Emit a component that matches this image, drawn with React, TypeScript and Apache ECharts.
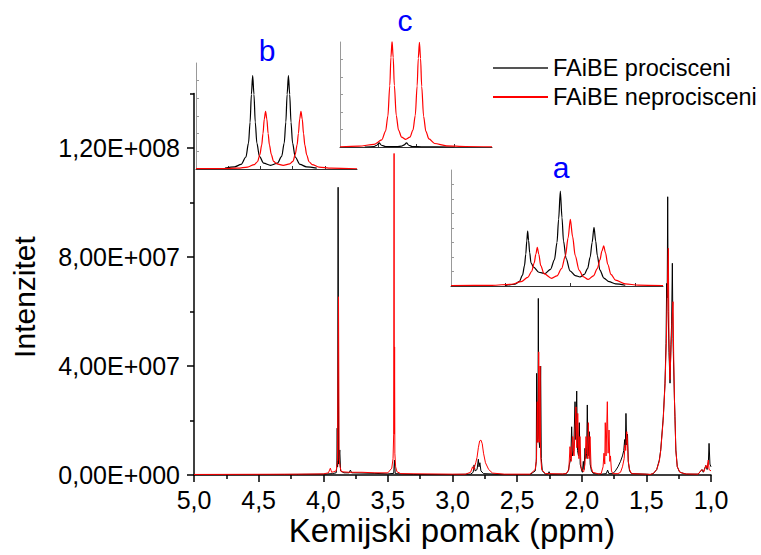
import React, { useEffect, useRef } from 'react';
import * as echarts from 'echarts';

const SERIES_NAMES = ['FAiBE procisceni', 'FAiBE neprocisceni'];
const X_MIN = 1;
const X_MAX = 5;
const X_INTERVAL = 0.5;
const Y_MAX = 14e7;
const Y_MAJOR_TICKS = [0, 4e7, 8e7, 12e7];
const Y_MINOR_TICKS = [2e7, 6e7, 10e7, 14e7];
const X_TITLE = 'Kemijski pomak (ppm)';
const Y_TITLE = 'Intenzitet';
const INSET_LABELS = ['a', 'b', 'c'];

// main spectrum, [ppm, intensity]
const mainBlack: number[][] = [
  [5.0, 0.01e7], [4.3, 0.02e7], [4.0, 0.03e7], [3.93, 0.05e7], [3.9, 0.08e7],
  [3.895, 0.3e7], [3.892, 1.72e7], [3.889, 0.3e7], [3.885, 10.56e7], [3.881, 0.4e7],
  [3.872, 0.92e7], [3.866, 0.15e7], [3.84, 0.08e7], [3.8, 0.08e7], [3.79, 0.18e7],
  [3.78, 0.08e7], [3.6, 0.06e7], [3.5, 0.04e7], [3.455, 0.06e7], [3.449, 0.55e7],
  [3.443, 0.05e7], [3.3, 0.02e7], [3.0, 0.02e7], [2.86, 0.03e7], [2.84, 0.1e7],
  [2.833, 0.37e7], [2.825, 0.15e7], [2.81, 0.2e7], [2.8, 0.58e7], [2.795, 0.3e7],
  [2.788, 0.45e7], [2.78, 0.15e7], [2.76, 0.05e7], [2.6, 0.02e7], [2.4, 0.02e7],
  [2.36, 0.15e7], [2.352, 0.5e7], [2.349, 3.73e7], [2.345, 1.2e7], [2.339, 1.5e7],
  [2.336, 6.48e7], [2.332, 1.3e7], [2.325, 1.0e7], [2.318, 4.0e7], [2.313, 0.6e7],
  [2.305, 0.15e7], [2.28, 0.03e7], [2.26, 0.04e7], [2.253, 0.12e7], [2.245, 0.03e7],
  [2.15, 0.03e7], [2.12, 0.05e7], [2.104, 0.15e7], [2.095, 0.4e7], [2.085, 0.6e7],
  [2.078, 1.77e7], [2.072, 0.7e7], [2.062, 0.9e7], [2.052, 2.69e7], [2.046, 1.3e7],
  [2.039, 3.08e7], [2.033, 0.9e7], [2.025, 0.7e7], [2.019, 1.92e7], [2.012, 0.4e7],
  [2.0, 0.15e7], [1.995, 0.1e7], [1.988, 0.5e7], [1.982, 0.2e7], [1.975, 0.98e7],
  [1.968, 0.6e7], [1.962, 0.8e7], [1.957, 2.57e7], [1.951, 0.7e7], [1.942, 1.59e7],
  [1.935, 0.4e7], [1.925, 0.15e7], [1.91, 0.05e7], [1.85, 0.03e7], [1.81, 0.05e7],
  [1.8, 0.18e7], [1.79, 0.05e7], [1.76, 0.05e7], [1.74, 0.15e7], [1.72, 0.3e7],
  [1.7, 0.5e7], [1.685, 0.7e7], [1.675, 0.9e7], [1.668, 1.3e7], [1.663, 1.0e7],
  [1.658, 2.26e7], [1.652, 1.1e7], [1.646, 1.5e7], [1.64, 0.5e7], [1.63, 0.15e7],
  [1.615, 0.05e7], [1.5, 0.03e7], [1.47, 0.02e7], [1.446, 0.05e7], [1.42, 0.2e7],
  [1.4, 0.55e7], [1.389, 0.92e7], [1.369, 2.14e7], [1.356, 3.37e7], [1.348, 4.83e7],
  [1.343, 7.03e7], [1.339, 6.5e7], [1.335, 10.21e7], [1.331, 6.0e7], [1.325, 4.5e7],
  [1.317, 3.37e7], [1.31, 4.8e7], [1.305, 5.5e7], [1.299, 7.77e7], [1.294, 5.0e7],
  [1.289, 4.0e7], [1.283, 2.8e7], [1.279, 2.14e7], [1.272, 0.92e7], [1.261, 0.31e7],
  [1.245, 0.12e7], [1.227, 0.08e7], [1.19, 0.03e7], [1.1, 0.03e7], [1.07, 0.2e7],
  [1.06, 0.1e7], [1.04, 0.35e7], [1.03, 0.2e7], [1.02, 0.5e7], [1.015, 1.16e7],
  [1.008, 0.4e7], [1.0, 0.3e7],
];

const mainRed: number[][] = [
  [5.0, 0.02e7], [4.2, 0.03e7], [4.0, 0.04e7], [3.96, 0.08e7], [3.945, 0.25e7],
  [3.935, 0.1e7], [3.92, 0.12e7], [3.9, 0.15e7], [3.89, 0.5e7], [3.882, 6.54e7],
  [3.877, 0.6e7], [3.87, 0.3e7], [3.86, 0.12e7], [3.8, 0.1e7], [3.7, 0.1e7],
  [3.6, 0.08e7], [3.5, 0.08e7], [3.47, 0.25e7], [3.46, 0.6e7], [3.455, 1.5e7],
  [3.452, 11.8e7], [3.45, 1.5e7], [3.448, 4.7e7], [3.446, 0.8e7], [3.44, 0.3e7],
  [3.43, 0.12e7], [3.4, 0.05e7], [3.0, 0.03e7], [2.9, 0.03e7], [2.86, 0.1e7],
  [2.845, 0.3e7], [2.835, 0.2e7], [2.82, 0.45e7], [2.81, 0.65e7], [2.8, 1.0e7],
  [2.79, 1.25e7], [2.78, 1.28e7], [2.77, 1.15e7], [2.76, 0.8e7], [2.745, 0.45e7],
  [2.72, 0.2e7], [2.69, 0.07e7], [2.6, 0.03e7], [2.4, 0.03e7], [2.36, 0.2e7],
  [2.35, 0.6e7], [2.344, 2.69e7], [2.339, 1.2e7], [2.333, 4.52e7], [2.328, 1.2e7],
  [2.323, 4.0e7], [2.318, 0.7e7], [2.31, 0.2e7], [2.28, 0.05e7], [2.15, 0.04e7],
  [2.12, 0.05e7], [2.1, 0.2e7], [2.091, 1.04e7], [2.082, 0.5e7], [2.07, 1.41e7],
  [2.06, 0.7e7], [2.045, 2.5e7], [2.038, 1.0e7], [2.031, 2.26e7], [2.022, 0.6e7],
  [2.014, 1.41e7], [2.006, 0.3e7], [1.995, 0.15e7], [1.985, 0.12e7], [1.975, 0.4e7],
  [1.967, 1.41e7], [1.96, 0.9e7], [1.955, 0.6e7], [1.949, 1.92e7], [1.943, 0.6e7],
  [1.936, 1.41e7], [1.928, 0.3e7], [1.915, 0.1e7], [1.87, 0.04e7], [1.85, 0.05e7],
  [1.835, 0.3e7], [1.828, 0.8e7], [1.822, 0.4e7], [1.818, 1.92e7], [1.812, 0.7e7],
  [1.802, 2.69e7], [1.796, 0.8e7], [1.789, 1.65e7], [1.783, 0.5e7], [1.778, 0.7e7],
  [1.77, 0.15e7], [1.76, 0.05e7], [1.72, 0.05e7], [1.7, 0.1e7], [1.685, 0.3e7],
  [1.672, 0.6e7], [1.665, 1.1e7], [1.66, 0.9e7], [1.652, 1.59e7], [1.647, 1.28e7],
  [1.64, 0.5e7], [1.63, 0.2e7], [1.615, 0.05e7], [1.5, 0.03e7], [1.47, 0.02e7],
  [1.446, 0.06e7], [1.42, 0.2e7], [1.4, 0.5e7], [1.389, 0.9e7], [1.37, 2.0e7],
  [1.356, 3.3e7], [1.345, 5.0e7], [1.337, 7.0e7], [1.33, 8.32e7], [1.325, 5.0e7],
  [1.318, 3.5e7], [1.31, 4.5e7], [1.302, 5.6e7], [1.294, 6.36e7], [1.289, 4.5e7],
  [1.283, 2.8e7], [1.278, 2.0e7], [1.272, 0.9e7], [1.261, 0.3e7], [1.24, 0.1e7],
  [1.2, 0.04e7], [1.1, 0.03e7], [1.07, 0.2e7], [1.055, 0.12e7], [1.04, 0.35e7],
  [1.03, 0.25e7], [1.021, 0.55e7], [1.015, 0.2e7], [1.0, 0.15e7],
];

// inset b (doublet), local units
const insetBBlack: number[][] = [
  [0.9, 0.05], [1.2, 0.12], [1.4, 0.26], [1.55, 0.68], [1.63, 1.46], [1.68, 2.65],
  [1.72, 4.22], [1.76, 5.28], [1.8, 4.23], [1.84, 2.66], [1.89, 1.47], [1.97, 0.71],
  [2.1, 0.33], [2.315, 0.21], [2.53, 0.33], [2.66, 0.71], [2.74, 1.47], [2.79, 2.66],
  [2.83, 4.23], [2.87, 5.28], [2.91, 4.22], [2.95, 2.65], [3.0, 1.46], [3.08, 0.68],
  [3.23, 0.26], [3.43, 0.12], [3.75, 0.05],
];
const insetBRed: number[][] = [
  [0, 0.02], [0.8, 0.025], [1.3, 0.05], [1.6, 0.11], [1.81, 0.25], [1.91, 0.41],
  [1.98, 0.79], [2.04, 1.35], [2.08, 2.0], [2.12, 2.82], [2.16, 3.27], [2.2, 2.83],
  [2.24, 2.01], [2.28, 1.37], [2.34, 0.81], [2.41, 0.43], [2.51, 0.29], [2.71, 0.21],
  [2.91, 0.29], [3.01, 0.43], [3.08, 0.81], [3.14, 1.37], [3.18, 2.01], [3.22, 2.83],
  [3.26, 3.27], [3.3, 2.82], [3.34, 2.0], [3.38, 1.35], [3.44, 0.79], [3.51, 0.41],
  [3.61, 0.25], [3.82, 0.11], [4.2, 0.045], [5.0, 0.015],
];

// inset c, local units
const insetCBlack: number[][] = [
  [0.65, 0], [0.9, 0.03], [0.97, 0.1], [1.03, 0.24], [1.09, 0.1], [1.2, 0.03],
  [1.5, 0.02], [1.62, 0.05], [1.69, 0.12], [1.75, 0.24], [1.81, 0.1], [1.9, 0.03],
  [2.2, 0.01], [3.0, 0],
];
const insetCRed: number[][] = [
  [0, 0.01], [0.5, 0.05], [0.9, 0.15], [1.1, 0.41], [1.2, 0.91], [1.26, 1.77],
  [1.31, 3.5], [1.34, 5.12], [1.37, 6.05], [1.4, 5.12], [1.43, 3.52], [1.48, 1.81],
  [1.54, 0.97], [1.62, 0.57], [1.73, 0.44], [1.84, 0.56], [1.92, 0.96], [1.98, 1.79],
  [2.03, 3.49], [2.06, 5.07], [2.09, 5.98], [2.12, 5.06], [2.15, 3.47], [2.2, 1.75],
  [2.26, 0.9], [2.34, 0.46], [2.49, 0.2], [2.8, 0.07], [3.3, 0.03], [4.0, 0.01],
];

// inset a (triplet), local units
const insetABlack: number[][] = [
  [1.0, 0.03], [1.15, 0.12], [1.22, 0.3], [1.27, 0.75], [1.3, 1.4], [1.32, 2.2],
  [1.335, 3.1], [1.349, 3.78], [1.363, 3.15], [1.38, 2.3], [1.4, 1.6], [1.44, 1.3],
  [1.52, 0.95], [1.615, 0.86], [1.7, 1.15], [1.76, 1.8], [1.8, 3.0], [1.825, 4.6],
  [1.851, 6.55], [1.877, 4.7], [1.9, 3.1], [1.94, 1.9], [2.0, 1.05], [2.08, 0.72],
  [2.154, 0.62], [2.22, 0.8], [2.27, 1.2], [2.31, 2.0], [2.34, 3.0], [2.369, 4.04],
  [2.395, 3.1], [2.42, 2.1], [2.46, 1.1], [2.52, 0.55], [2.6, 0.3], [2.7, 0.15],
  [2.85, 0.05],
];
const insetARed: number[][] = [
  [0.17, 0.03], [0.8, 0.05], [1.1, 0.12], [1.25, 0.3], [1.35, 0.6], [1.41, 1.0],
  [1.45, 1.6], [1.475, 2.2], [1.497, 2.66], [1.52, 2.2], [1.55, 1.4], [1.6, 0.85],
  [1.718, 0.53], [1.8, 0.7], [1.87, 1.2], [1.93, 2.1], [1.97, 3.3], [2.005, 4.59],
  [2.04, 3.4], [2.08, 2.1], [2.14, 1.1], [2.2, 0.65], [2.28, 0.46], [2.36, 0.7],
  [2.42, 1.2], [2.46, 1.8], [2.49, 2.4], [2.518, 2.77], [2.545, 2.3], [2.58, 1.5],
  [2.63, 0.8], [2.7, 0.4], [2.85, 0.15], [3.05, 0.06], [3.43, 0.02],
];

const FONT = '"Liberation Sans", Arial, sans-serif';

function fmtY(v: number): string {
  if (v === 0) return '0,00E+000';
  const e = Math.floor(Math.log10(Math.abs(v)) + 1e-9);
  const m = v / Math.pow(10, e);
  return m.toFixed(2).replace('.', ',') + 'E+' + String(e).padStart(3, '0');
}

function insetX(gridIndex: number, min: number, max: number, ticks: number[]) {
  return {
    type: 'value', gridIndex, min, max,
    axisLine: { show: true, onZero: false, lineStyle: { color: '#333', width: 1 } },
    axisTick: { show: true, inside: true, length: 3, customValues: ticks, lineStyle: { color: '#333', width: 1 } },
    axisLabel: { show: false },
    splitLine: { show: false },
  };
}
function insetY(gridIndex: number, max: number, ticks: number[]) {
  return {
    type: 'value', gridIndex, min: 0, max,
    axisLine: { show: true, onZero: false, lineStyle: { color: '#999', width: 1 } },
    axisTick: { show: true, inside: true, length: 3, customValues: ticks, lineStyle: { color: '#999', width: 1 } },
    axisLabel: { show: false },
    splitLine: { show: false },
  };
}
function insetSeries(name: string, color: string, data: number[][], axis: number, yAxis: number) {
  return {
    name, type: 'line', data, xAxisIndex: axis, yAxisIndex: yAxis,
    showSymbol: false, symbol: 'none', smooth: 0.3, smoothMonotone: 'x',
    lineStyle: { color, width: 1.2 }, itemStyle: { color }, z: 5,
  };
}

export default function App() {
  const ref = useRef<HTMLDivElement>(null);
  useEffect(() => {
    if (!ref.current) return;
    const chart = echarts.init(ref.current, undefined, { renderer: 'svg' });
    const option: any = {
      animation: false,
      backgroundColor: '#fff',
      legend: {
        orient: 'vertical', left: 488, top: 51,
        itemWidth: 55, itemHeight: 2, itemGap: 5, icon: 'rect', selectedMode: false,
        textStyle: { fontFamily: FONT, fontSize: 23.5, color: '#000' },
        data: [
          { name: SERIES_NAMES[0], itemStyle: { color: '#555' } },
          { name: SERIES_NAMES[1], itemStyle: { color: '#ff0000' } },
        ],
      },
      grid: [
        { left: 194, top: 93.5, right: 50, bottom: 80 },
        { left: 196, top: 63, width: 161, height: 106 },
        { left: 340, top: 42, width: 152, height: 105 },
        { left: 451, top: 170, width: 212, height: 116 },
      ],
      xAxis: [
        {
          type: 'value', gridIndex: 0, min: X_MIN, max: X_MAX, interval: X_INTERVAL, inverse: true,
          axisLine: { show: true, onZero: false, lineStyle: { color: '#000', width: 1.5 } },
          axisTick: { show: true, length: 7, lineStyle: { color: '#000', width: 1.5 } },
          minorTick: { show: true, splitNumber: 2, length: 4, lineStyle: { color: '#000', width: 1.5 } },
          axisLabel: {
            fontFamily: FONT, fontSize: 25, color: '#000', margin: 12,
            formatter: (v: number) => v.toFixed(1).replace('.', ','),
          },
          splitLine: { show: false },
        },
        insetX(1, 0, 5, [1, 2, 3, 4]),
        insetX(2, 0, 4, [1, 2, 3]),
        insetX(3, 0.17, 3.43, [1, 2, 3]),
      ],
      yAxis: [
        {
          type: 'value', gridIndex: 0, min: 0, max: Y_MAX,
          axisLine: { show: true, onZero: false, lineStyle: { color: '#000', width: 1.5 } },
          axisTick: { show: true, length: 7, customValues: Y_MAJOR_TICKS, lineStyle: { color: '#000', width: 1.5 } },
          axisLabel: {
            fontFamily: FONT, fontSize: 25, color: '#000', margin: 14,
            customValues: Y_MAJOR_TICKS, formatter: (v: number) => fmtY(v),
          },
          splitLine: { show: false },
        },
        {
          type: 'value', gridIndex: 0, min: 0, max: Y_MAX, position: 'left',
          axisLine: { show: false },
          axisTick: { show: true, length: 4, customValues: Y_MINOR_TICKS, lineStyle: { color: '#000', width: 1.5 } },
          axisLabel: { show: false },
          splitLine: { show: false },
        },
        insetY(1, 6, [1, 2, 3, 4, 5]),
        insetY(2, 6, [1, 2, 3, 4, 5]),
        insetY(3, 8, [1, 2, 3, 4, 5, 6, 7]),
      ],
      series: [
        {
          name: SERIES_NAMES[0], type: 'line', data: mainBlack, xAxisIndex: 0, yAxisIndex: 0,
          showSymbol: false, symbol: 'none', lineStyle: { color: '#000', width: 1 }, itemStyle: { color: '#000' },
        },
        {
          name: SERIES_NAMES[1], type: 'line', data: mainRed, xAxisIndex: 0, yAxisIndex: 0,
          showSymbol: false, symbol: 'none', lineStyle: { color: '#ff0000', width: 1 }, itemStyle: { color: '#ff0000' },
        },
        insetSeries(SERIES_NAMES[0], '#000', insetBBlack, 1, 2),
        insetSeries(SERIES_NAMES[1], '#ff0000', insetBRed, 1, 2),
        insetSeries(SERIES_NAMES[0], '#000', insetCBlack, 2, 3),
        insetSeries(SERIES_NAMES[1], '#ff0000', insetCRed, 2, 3),
        insetSeries(SERIES_NAMES[0], '#000', insetABlack, 3, 4),
        insetSeries(SERIES_NAMES[1], '#ff0000', insetARed, 3, 4),
      ],
      graphic: [
        {
          type: 'text', x: 452, y: 530,
          style: { text: X_TITLE, font: `33px ${FONT}`, fill: '#000', textAlign: 'center', textVerticalAlign: 'middle' },
        },
        {
          type: 'text', x: 24, y: 297, rotation: Math.PI / 2,
          style: { text: Y_TITLE, font: `30px ${FONT}`, fill: '#000', textAlign: 'center', textVerticalAlign: 'middle' },
        },
        {
          type: 'text', x: 561, y: 167,
          style: { text: INSET_LABELS[0], font: `30px ${FONT}`, fill: '#0000ff', textAlign: 'center', textVerticalAlign: 'middle' },
        },
        {
          type: 'text', x: 267, y: 50,
          style: { text: INSET_LABELS[1], font: `30px ${FONT}`, fill: '#0000ff', textAlign: 'center', textVerticalAlign: 'middle' },
        },
        {
          type: 'text', x: 405, y: 20,
          style: { text: INSET_LABELS[2], font: `30px ${FONT}`, fill: '#0000ff', textAlign: 'center', textVerticalAlign: 'middle' },
        },
      ],
    };
    chart.setOption(option);
    return () => chart.dispose();
  }, []);
  return <div ref={ref} style={{ position: 'fixed', left: 0, top: 0, width: 761, height: 555 }} />;
}
